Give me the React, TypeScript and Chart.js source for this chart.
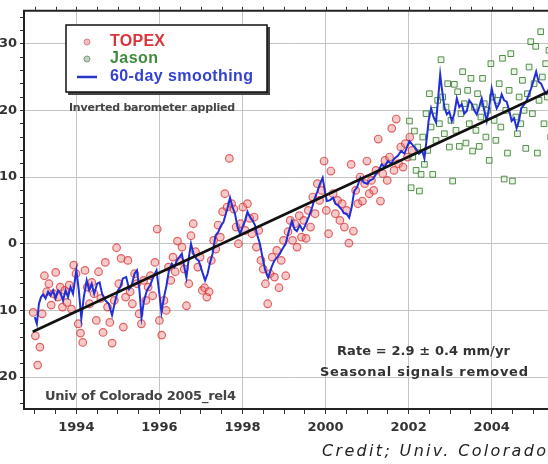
import React, { useEffect, useRef } from "react";
import { Chart, registerables } from "chart.js";

Chart.register(...registerables);

// ---------- data ----------
const TOPEX_START = 1992.96; // first TOPEX sample (year)
const TOPEX_STEP = 0.0543; // two 10-day repeat cycles
const topexValues = [
  -10.3, -13.8, -18.2, -15.5, -10.5, -4.8, -7.2, -6.0, -9.2, -7.5,
  -4.3, -8.0, -6.5, -9.5, -7.0, -8.8, -6.2, -9.8, -3.2, -4.5,
  -12.0, -13.4, -14.8, -4.0, -6.5, -9.0, -5.8, -7.5, -11.5, -4.2,
  -8.2, -13.3, -2.8, -9.5, -11.8, -14.9, -8.5, -0.6, -6.0, -2.2,
  -12.5, -8.0, -2.5, -7.2, -9.0, -4.5, -6.0, -10.5, -12.0, -5.5,
  -8.5, -6.5, -4.8, -7.8, -2.8, 2.2, -11.5, -13.7, -8.5, -10.0,
  -3.5, -5.5, -2.0, -4.2, 0.4, -2.6, -0.5, -3.8, -9.3, -6.0,
  1.2, 3.0, -1.2, -3.5, -2.0, -7.0, -6.6, -8.0, -7.2, -2.5,
  0.5, -0.8, 2.8, 1.0, 4.8, 7.5, 5.5, 12.8, 6.0, 5.2,
  2.5, 0.0, 3.0, 5.5, 2.0, 6.0, 3.8, 1.5, 4.0, -0.5,
  2.0, -2.5, -3.8, -6.0, -9.0, -4.5, -2.0, -5.0, -1.0, -6.6,
  -2.5, 0.5, -4.8, 1.8, 3.5, 0.5, 3.0, -0.5, 4.2, 1.0,
  3.5, 0.8, 5.0, 2.5, 7.0, 4.5, 9.0, 6.5, 8.0, 12.4,
  5.0, 1.5, 10.9, 7.5, 4.5, 6.5, 3.5, 6.0, 2.5, 5.0,
  0.1, 11.9, 1.9, 8.0, 6.0, 10.0, 6.4, 9.0, 12.4, 7.5,
  9.5, 8.0, 11.0, 15.7, 6.4, 10.5, 12.5, 9.5, 13.0, 17.3,
  11.0, 18.7, 12.0, 14.5, 11.5, 15.0, 13.0, 16.0, 14.0,
];

const JASON_START = 2002.02;
const JASON_STEP = 0.04;
const jasonValues = [
  18.4, 8.4, 13.0, 16.9, 11.0, 14.5, 7.9, 10.4, 16.0, 11.9,
  19.5, 14.0, 22.5, 17.5, 10.4, 20.0, 15.5, 21.5, 18.0, 27.6,
  22.0, 16.5, 20.5, 24.0, 14.5, 18.5, 9.4, 23.9, 17.0, 22.8,
  14.6, 19.5, 25.8, 21.0, 15.1, 23.0, 18.0, 24.8, 13.9, 20.5,
  17.0, 22.5, 14.6, 19.0, 24.8, 21.0, 16.0, 20.0, 12.5, 27.0,
  22.0, 18.5, 15.5, 21.5, 24.0, 17.5, 27.8, 9.7, 20.0, 13.6,
  23.0, 28.5, 9.4, 25.8, 19.0, 16.5, 22.0, 18.0, 24.5, 20.0,
  14.3, 22.5, 26.5, 30.3, 19.5, 24.0, 29.6, 13.6, 21.5, 31.8,
  25.0, 18.0, 27.0, 22.0, 29.0, 16.0, 24.5,
];

const smoothYears = [
  1993.0, 1993.05, 1993.1, 1993.15, 1993.2, 1993.26, 1993.32, 1993.38, 1993.44, 1993.5,
  1993.56, 1993.62, 1993.68, 1993.74, 1993.8, 1993.86, 1993.92, 1994.0, 1994.06, 1994.12,
  1994.18, 1994.25, 1994.31, 1994.37, 1994.43, 1994.5, 1994.56, 1994.62, 1994.7, 1994.78,
  1994.86, 1994.92, 1995.0, 1995.06, 1995.12, 1995.2, 1995.27, 1995.33, 1995.4, 1995.46,
  1995.52, 1995.57, 1995.63, 1995.7, 1995.78, 1995.85, 1995.93, 1996.0, 1996.05, 1996.11,
  1996.17, 1996.23, 1996.3, 1996.36, 1996.42, 1996.48, 1996.54, 1996.6, 1996.65, 1996.71,
  1996.76, 1996.82, 1996.88, 1996.95, 1997.02, 1997.1, 1997.16, 1997.22, 1997.28, 1997.35,
  1997.42, 1997.48, 1997.54, 1997.6, 1997.66, 1997.7, 1997.76, 1997.82, 1997.88, 1997.94,
  1998.0, 1998.06, 1998.12, 1998.18, 1998.24, 1998.3, 1998.36, 1998.42, 1998.48, 1998.55,
  1998.62, 1998.7, 1998.77, 1998.84, 1998.9, 1998.96, 1999.04, 1999.1, 1999.19, 1999.25,
  1999.31, 1999.38, 1999.45, 1999.5, 1999.56, 1999.62, 1999.68, 1999.74, 1999.8, 1999.86,
  1999.93, 1999.98, 2000.03, 2000.1, 2000.18, 2000.24, 2000.31, 2000.38, 2000.44, 2000.5,
  2000.57, 2000.63, 2000.69, 2000.76, 2000.84, 2000.92, 2001.0, 2001.07, 2001.14, 2001.21,
  2001.28, 2001.35, 2001.42, 2001.5, 2001.58, 2001.66, 2001.74, 2001.82, 2001.9, 2001.96,
  2002.02, 2002.1, 2002.17, 2002.25, 2002.33, 2002.38, 2002.44, 2002.48, 2002.54, 2002.6,
  2002.66, 2002.7, 2002.76, 2002.8, 2002.86, 2002.92, 2002.98, 2003.04, 2003.1, 2003.16,
  2003.22, 2003.28, 2003.34, 2003.4, 2003.46, 2003.52, 2003.58, 2003.64, 2003.7, 2003.76,
  2003.82, 2003.88, 2003.94, 2004.0, 2004.06, 2004.12, 2004.18, 2004.24, 2004.3, 2004.36,
  2004.42, 2004.48, 2004.54, 2004.6, 2004.66, 2004.71, 2004.77, 2004.83, 2004.89, 2004.95,
  2005.01, 2005.07, 2005.13, 2005.19, 2005.26, 2005.32, 2005.4, 2005.46,
];
const smoothValues = [
  -11.0, -12.0, -9.0, -8.0, -7.6, -8.2, -7.2, -7.8, -7.0, -8.2,
  -7.0, -7.4, -8.5, -7.0, -8.0, -6.5, -7.5, -4.0, -7.0, -11.2,
  -8.0, -5.5, -7.0, -6.0, -7.5, -6.0, -5.8, -7.5, -8.5, -9.0,
  -10.7, -9.0, -7.0, -6.5, -5.2, -5.0, -6.8, -6.3, -4.5, -4.0,
  -7.0, -11.0, -8.5, -7.0, -6.2, -5.0, -4.0, -7.5, -10.3, -8.0,
  -6.3, -4.0, -3.0, -3.5, -2.5, -2.0, -1.5, -3.5, -5.1, -2.0,
  0.0, -1.5, -2.2, -2.6, -4.0, -5.5, -4.5, -2.8, -1.5, 1.2,
  1.8, 2.7, 3.2, 4.5, 5.8, 6.9, 5.5, 4.5, 2.5, 1.5,
  2.5, 3.4, 4.8, 4.0, 3.5, 2.8, 1.2, 0.0, -2.0, -4.0,
  -5.1, -3.5, -2.5, -2.0, -1.5, -0.8, 0.0, 1.5, 3.4, 2.2,
  1.9, 2.8, 2.0, 2.6, 3.5, 4.4, 5.5, 6.8, 7.8, 8.9,
  9.9, 8.0, 6.4, 6.5, 6.9, 6.0, 5.7, 5.2, 4.6, 4.5,
  3.9, 5.5, 7.9, 8.5, 9.9, 9.2, 9.0, 9.5, 9.7, 10.4,
  11.0, 11.9, 11.5, 12.4, 12.0, 12.8, 13.2, 13.9, 13.5, 14.5,
  15.4, 14.8, 14.3, 13.5, 13.9, 12.8, 16.0, 18.4, 20.3, 19.0,
  18.2, 21.0, 25.4, 23.3, 20.5, 19.4, 19.8, 18.4, 19.5, 21.8,
  20.5, 20.9, 19.5, 19.9, 21.5, 21.0, 20.0, 19.4, 20.5, 21.8,
  20.0, 18.4, 20.5, 23.3, 21.5, 20.3, 21.0, 22.4, 21.5, 21.3,
  20.0, 18.4, 18.8, 17.3, 18.5, 20.3, 20.8, 21.3, 22.3, 23.3,
  24.5, 25.8, 24.3, 24.0, 23.0, 22.5, 23.5, 24.0,
];

const trendYears = [1992.95, 2005.5];
const trendValues = [-13.2, 23.2];

const xLabelYears = [1994, 1996, 1998, 2000, 2002, 2004];
const yLabelValues = [-20, -10, 0, 10, 20, 30];

// ---------- layout ----------
const X_MIN = 1992.74;
const X_MAX = 2005.5;
const Y_MIN = -24.78;
const Y_MAX = 34.93;
const OX = 40; // canvas shifted left by this many px

function fitText(
  ctx: CanvasRenderingContext2D,
  text: string,
  x: number,
  y: number,
  w: number,
  font: string,
  color: string
) {
  ctx.save();
  ctx.font = font;
  ctx.fillStyle = color;
  ctx.textAlign = "left";
  ctx.textBaseline = "middle";
  (ctx as any).letterSpacing = "0px";
  const w0 = ctx.measureText(text).width;
  const ls = (w - w0) / Math.max(1, text.length - 1);
  (ctx as any).letterSpacing = ls.toFixed(2) + "px";
  ctx.fillText(text, x, y);
  ctx.restore();
}

const framePlugin = {
  id: "frame",
  afterDraw(chart: any) {
    const ctx: CanvasRenderingContext2D = chart.ctx;
    const a = chart.chartArea;
    const xs = chart.scales.x;
    ctx.save();
    ctx.strokeStyle = "#222";
    ctx.lineWidth = 2;
    ctx.beginPath();
    ctx.moveTo(a.left - 1, a.top);
    ctx.lineTo(a.right, a.top);
    ctx.stroke();
    ctx.lineWidth = 1;
    ctx.strokeStyle = "#333";
    for (const t of xs.ticks) {
      const px = Math.round(xs.getPixelForValue(t.value)) + 0.5;
      ctx.beginPath();
      ctx.moveTo(px, a.top);
      ctx.lineTo(px, a.top - 4);
      ctx.stroke();
    }
    ctx.restore();
  },
};

const annotPlugin = {
  id: "annot",
  afterDatasetsDraw(chart: any) {
    const ctx: CanvasRenderingContext2D = chart.ctx;
    ctx.save();
    // legend box
    const bx = 66 + OX, by = 25, bw = 201, bh = 67;
    ctx.fillStyle = "#444";
    ctx.fillRect(bx + 2, by + 2, bw + 1, bh + 1);
    ctx.fillStyle = "#fff";
    ctx.fillRect(bx, by, bw, bh);
    ctx.strokeStyle = "#111";
    ctx.lineWidth = 1.5;
    ctx.strokeRect(bx, by, bw, bh);

    // markers
    ctx.beginPath();
    ctx.arc(87 + OX, 42, 3, 0, Math.PI * 2);
    ctx.fillStyle = "rgba(235,140,150,0.6)";
    ctx.fill();
    ctx.strokeStyle = "rgba(215,120,130,0.9)";
    ctx.lineWidth = 1;
    ctx.stroke();
    ctx.beginPath();
    ctx.arc(87 + OX, 59, 3, 0, Math.PI * 2);
    ctx.fillStyle = "rgba(150,175,150,0.6)";
    ctx.fill();
    ctx.strokeStyle = "rgba(120,150,120,0.9)";
    ctx.stroke();
    ctx.beginPath();
    ctx.moveTo(77 + OX, 77);
    ctx.lineTo(97 + OX, 77);
    ctx.strokeStyle = "#2a36c8";
    ctx.lineWidth = 2.5;
    ctx.stroke();
    ctx.restore();

    fitText(ctx, "TOPEX", 110 + OX, 42, 55, "bold 16px 'Liberation Sans'", "#d8353a");
    fitText(ctx, "Jason", 110 + OX, 59, 48, "bold 16px 'Liberation Sans'", "#3f8a3c");
    fitText(ctx, "60-day smoothing", 110 + OX, 77, 143, "bold 16px 'Liberation Sans'", "#3442d0");

    fitText(ctx, "Inverted barometer applied", 69 + OX, 108, 166, "bold 11px 'DejaVu Sans'", "#444");
    fitText(ctx, "Univ of Colorado 2005_rel4", 45 + OX, 397, 191, "bold 13px 'DejaVu Sans'", "#444");
    fitText(ctx, "Rate = 2.9 \u00b1 0.4 mm/yr", 337 + OX, 352, 173, "bold 13px 'DejaVu Sans'", "#333");
    fitText(ctx, "Seasonal signals removed", 320 + OX, 373, 208, "bold 13px 'DejaVu Sans'", "#333");
  },
  afterDraw(chart: any) {
    const ctx: CanvasRenderingContext2D = chart.ctx;
    fitText(ctx, "Credit; Univ. Colorado", 322 + OX, 452, 224, "italic 16px 'DejaVu Sans'", "#222");
  },
};

export default function App() {
  const ref = useRef<HTMLCanvasElement | null>(null);

  useEffect(() => {
    if (!ref.current) return;
    const topex = topexValues.map((v, i) => ({ x: TOPEX_START + i * TOPEX_STEP, y: v }));
    const jason = jasonValues.map((v, i) => ({ x: JASON_START + i * JASON_STEP, y: v }));
    const smooth = smoothYears.map((yr, i) => ({ x: yr, y: smoothValues[i] }));
    const trend = trendYears.map((yr, i) => ({ x: yr, y: trendValues[i] }));

    const xTicks: number[] = [];
    for (let v = 1993; v <= X_MAX + 1e-9; v += 0.5) xTicks.push(v);
    const yTicks: number[] = [];
    for (let v = -24; v <= Y_MAX; v += 2) yTicks.push(v);

    const tickFont = { family: "'DejaVu Sans'", size: 13, weight: "bold" as const };

    const chart = new Chart(ref.current, {
      type: "scatter",
      data: {
        datasets: [
          {
            label: "trend",
            data: trend,
            showLine: true,
            borderColor: "#111",
            borderWidth: 2.6,
            pointRadius: 0,
          },
          {
            label: "60-day smoothing",
            data: smooth,
            showLine: true,
            borderColor: "#2130d6",
            borderWidth: 2,
            pointRadius: 0,
            tension: 0,
          },
          {
            label: "Jason",
            data: jason,
            pointStyle: "rect",
            pointRadius: 4,
            borderColor: "rgba(60,125,50,0.85)",
            backgroundColor: "rgba(215,235,210,0.5)",
            borderWidth: 1,
          },
          {
            label: "TOPEX",
            data: topex,
            pointRadius: 3.8,
            borderColor: "rgba(215,55,55,0.75)",
            backgroundColor: "rgba(235,115,115,0.38)",
            borderWidth: 1.2,
          },
        ],
      },
      options: {
        animation: false,
        responsive: false,
        layout: { padding: { left: 24, top: 9, right: 0, bottom: 0 } },
        plugins: { legend: { display: false }, tooltip: { enabled: false } },
        scales: {
          x: {
            type: "linear",
            min: X_MIN,
            max: X_MAX,
            afterBuildTicks: (s: any) => {
              s.ticks = xTicks.map((v) => ({ value: v }));
            },
            afterFit: (s: any) => {
              s.height = 55;
            },
            grid: {
              color: (c: any) =>
                c.tick && xLabelYears.includes(c.tick.value) ? "#c4c4c4" : "rgba(0,0,0,0)",
              tickColor: "#333",
              tickLength: 5,
              lineWidth: 1,
            },
            border: { display: true, color: "#222", width: 2 },
            ticks: {
              autoSkip: false,
              maxRotation: 0,
              padding: 6,
              color: "#333",
              font: tickFont,
              callback: (v: any) => (xLabelYears.includes(v) ? String(v) : ""),
            },
          },
          y: {
            type: "linear",
            min: Y_MIN,
            max: Y_MAX,
            afterBuildTicks: (s: any) => {
              s.ticks = yTicks.map((v) => ({ value: v }));
            },
            afterFit: (s: any) => {
              s.width = 40;
            },
            grid: {
              color: (c: any) =>
                c.tick && yLabelValues.includes(c.tick.value) ? "#c4c4c4" : "rgba(0,0,0,0)",
              tickColor: "#333",
              tickLength: 4,
              lineWidth: 1,
            },
            border: { display: true, color: "#222", width: 2 },
            ticks: {
              autoSkip: false,
              padding: 3,
              color: "#333",
              font: tickFont,
              callback: (v: any) => (yLabelValues.includes(v) ? String(v) : ""),
            },
          },
        },
      },
      plugins: [framePlugin, annotPlugin],
    });
    return () => chart.destroy();
  }, []);

  return (
    <div
      style={{
        position: "fixed",
        left: 0,
        top: 0,
        width: 548,
        height: 464,
        overflow: "hidden",
        background: "#fff",
      }}
    >
      <canvas
        ref={ref}
        width={600}
        height={464}
        style={{ position: "absolute", left: -OX, top: 0, width: 600, height: 464 }}
      />
    </div>
  );
}
